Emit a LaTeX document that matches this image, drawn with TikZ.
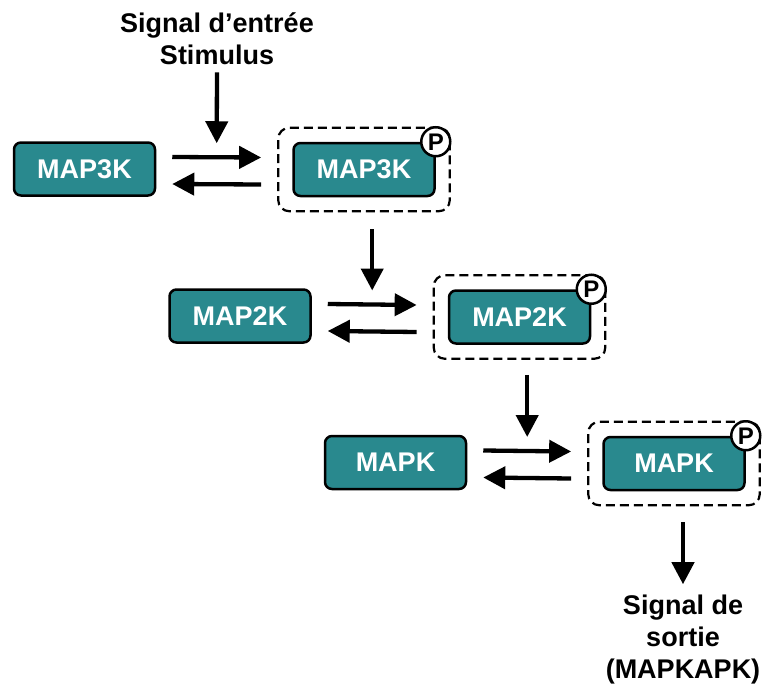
\documentclass[tikz,border=0pt]{standalone}
\usepackage{fontspec}
\setmainfont{Liberation Sans}
\usetikzlibrary{arrows.meta,calc,fit}
\definecolor{kinase}{RGB}{41,137,142}
\begin{document}
\begin{tikzpicture}[x=1pt,y=-1pt,
  kbox/.style={draw=black, line width=2.5pt, fill=kinase, rounded corners=7pt,
    minimum width=141pt, minimum height=53pt, inner sep=0pt,
    text=white, font=\fontsize{27}{32}\selectfont\bfseries},
  actbox/.style={draw=black, line width=2.2pt, dash pattern=on 9pt off 5pt,
    rounded corners=11pt, inner sep=14pt, fit=#1},
  phos/.style={circle, draw=black, line width=2.5pt, fill=white,
    minimum size=29pt, inner sep=0pt, font=\fontsize{24}{24}\selectfont\bfseries},
  flow/.style={-{Triangle[length=22pt,width=22pt]}, line width=4.3pt},
  lbl/.style={align=center, inner sep=0pt, font=\fontsize{27}{32}\selectfont\bfseries}
]
\useasboundingbox (0,0) rectangle (762,688);

% kinases, inactive (left) and phosphorylated (right)
\node[kbox] (k3)  at (84.5,169)  {MAP3K};
\node[kbox] (k3p) at (364,169.5) {MAP3K};
\node[kbox] (k2)  at (240,316)   {MAP2K};
\node[kbox] (k2p) at (519.5,317) {MAP2K};
\node[kbox] (k1)  at (395.5,462.5) {MAPK};
\node[kbox] (k1p) at (674,463.5)   {MAPK};

% active forms
\node[actbox=(k3p)] (a3) {};
\node[actbox=(k2p)] (a2) {};
\node[actbox=(k1p)] (a1) {};
\node[phos] (p3) at (k3p.north east) {P};
\node[phos] (p2) at (k2p.north east) {P};
\node[phos] (p1) at (k1p.north east) {P};

% input and output signals (anchored on the baseline of the last line)
\node[lbl, anchor=base] (in)  at (217,64)  {Signal d’entrée\\Stimulus};
\node[lbl, anchor=base] (out) at (683,678) {Signal de\\sortie\\(MAPKAPK)};

% reversible phosphorylation steps
\foreach \k/\a in {k3/a3, k2/a2, k1/a1}{
  \draw[flow] ([shift={(16pt,12pt)}]\k.east) -- ([shift={(-16pt,12pt)}]\a.west);
  \draw[flow] ([shift={(-16pt,-15pt)}]\a.west) -- ([shift={(16pt,-15pt)}]\k.east);
}

% activating inputs
\coordinate (t3) at ($(k3.east)!0.5!(a3.west) + (0,-26)$);
\coordinate (t2) at ($(k2.east)!0.5!(a2.west) + (0,-26)$);
\coordinate (t1) at ($(k1.east)!0.5!(a1.west) + (0,-26)$);
\path (a3.south -| t2) coordinate (s2);
\path (a2.south -| t1) coordinate (s1);
\path (a1.south -| out) coordinate (s0);

\draw[flow] ([yshift=-8pt]in.south) -- (t3);
\draw[flow] ([yshift=-17pt]s2) -- (t2);
\draw[flow] ([yshift=-15pt]s1) -- (t1);
\draw[flow] ([yshift=-16pt]s0) -- ([yshift=10pt]out.north);
\end{tikzpicture}
\end{document}
